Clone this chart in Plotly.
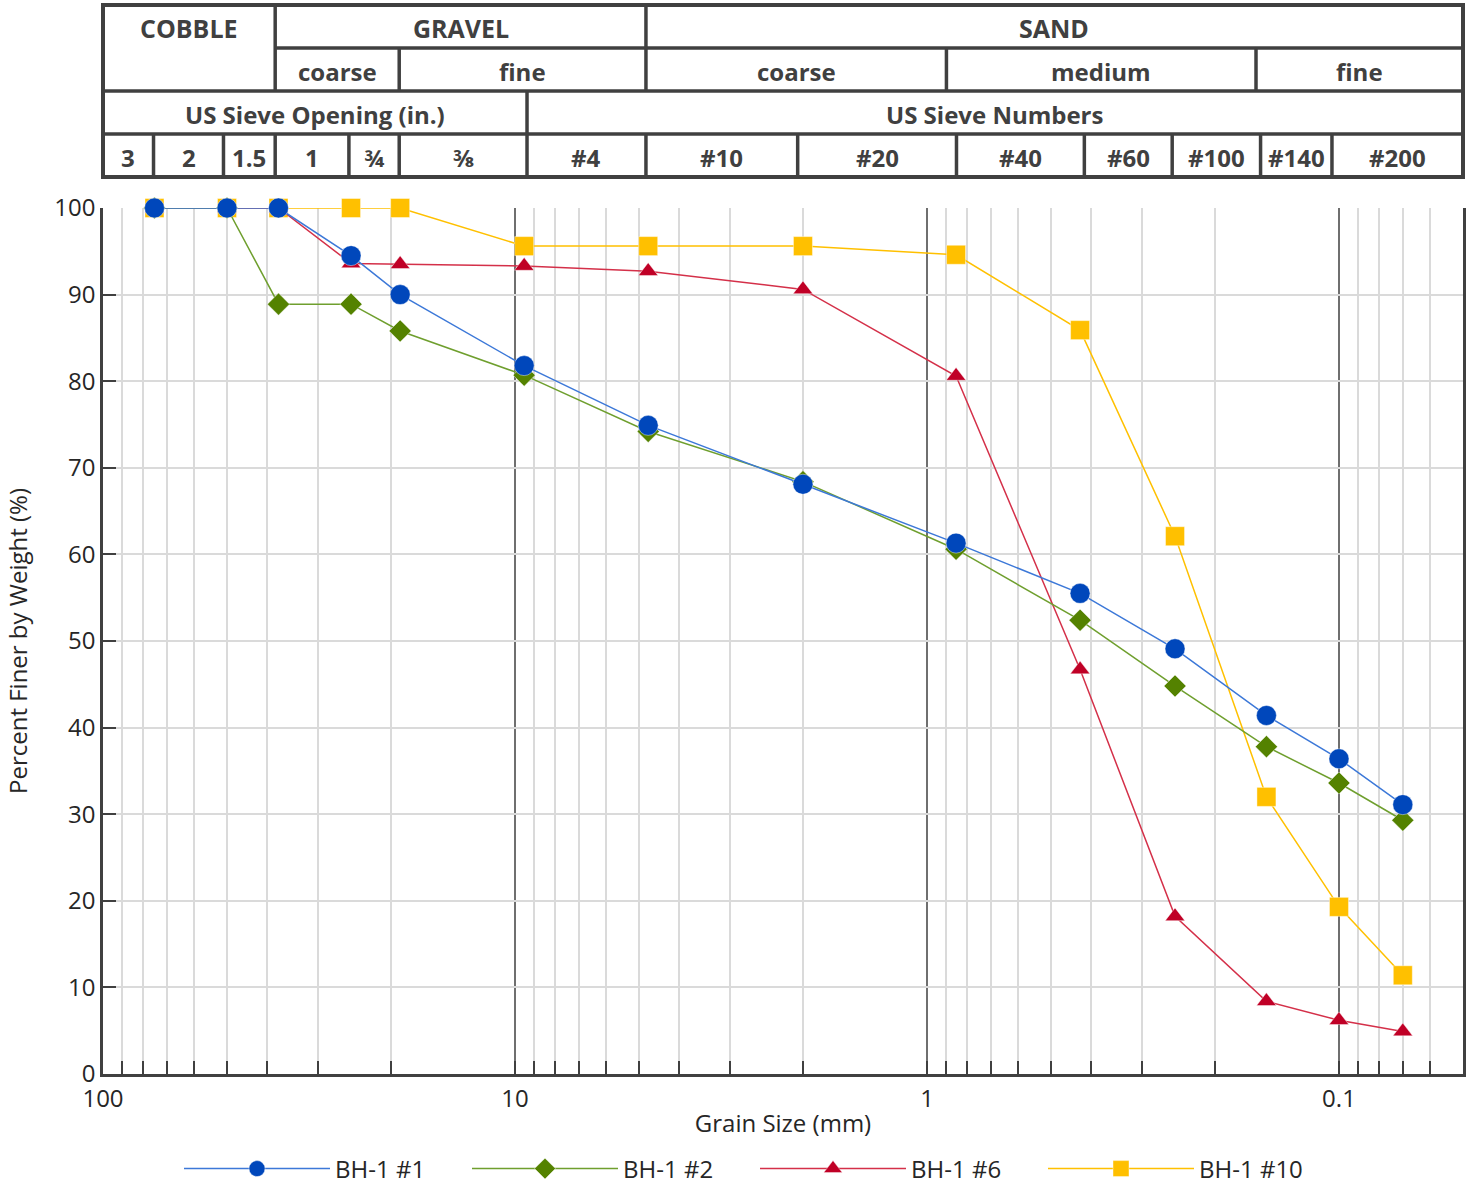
import numpy as np
import plotly.graph_objects as go

# ---------------- data ----------------
grain_mm = [75, 50, 37.5, 25, 19, 9.5, 4.75, 2.0, 0.85, 0.425, 0.25, 0.15, 0.1, 0.07]
bh1_1 = [100, 100, 100, 94.5, 90.0, 81.8, 74.9, 68.1, 61.3, 55.5, 49.1, 41.4, 36.4, 31.1]
bh1_2 = [100, 100, 88.9, 88.9, 85.8, 80.7, 74.2, 68.4, 60.6, 52.4, 44.8, 37.8, 33.6, 29.3]
bh1_6 = [100, 100, 100, 93.6, 93.5, 93.3, 92.7, 90.6, 80.6, 46.7, 18.2, 8.4, 6.2, 4.9]
bh1_10 = [100, 100, 100, 100, 100, 95.6, 95.6, 95.6, 94.6, 85.9, 62.1, 32.0, 19.3, 11.4]

series_names = ["BH-1 #1", "BH-1 #2", "BH-1 #6", "BH-1 #10"]

x_major_ticks = [100, 10, 1, 0.1]
x_major_labels = ["100", "10", "1", "0.1"]
y_ticks = [0, 10, 20, 30, 40, 50, 60, 70, 80, 90, 100]

# header table (grain-size limits in mm)
row1_labels = ["COBBLE", "GRAVEL", "SAND"]
row1_edges = [100, 38.2, 4.81, 0.05]
row2_labels = ["", "coarse", "fine", "coarse", "medium", "fine"]
row2_edges = [100, 38.2, 19.1, 4.81, 0.897, 0.159, 0.05]
row3_labels = ["US Sieve Opening (in.)", "US Sieve Numbers"]
row3_edges = [100, 9.35, 0.05]
row4_labels = ["3", "2", "1.5", "1", "¾", "⅜", "#4", "#10", "#20", "#40", "#60",
               "#100", "#140", "#200"]
row4_edges = [100, 75.4, 51.0, 38.2, 25.3, 19.1, 9.35, 4.81, 2.06, 0.848, 0.415,
              0.254, 0.155, 0.104, 0.05]

# ---------------- layout constants ----------------
W, H = 1470, 1185
ML, MR, MT, MB = 103, 7, 208, 111
X_MAX, X_MIN = 100, 0.05
FONT = "Open Sans"
DARK = "#404040"
TXT = "#262626"


def mm_to_paper(mm):
    return (np.log10(X_MAX) - np.log10(mm)) / (np.log10(X_MAX) - np.log10(X_MIN))


def py_to_paper(py):
    return (H - MB - py) / (H - MT - MB)


minor_vals = []
for dec in [10, 1, 0.1, 0.01]:
    for k in range(2, 10):
        v = k * dec
        if X_MIN - 1e-9 <= v <= X_MAX + 1e-9:
            minor_vals.append(v)

fig = go.Figure()

styles = {
    "BH-1 #10": dict(line="#FFC000", marker="#FFC000", symbol="square", size=19),
    "BH-1 #6": dict(line="#D43049", marker="#C00026", symbol="triangle-up", size=17),
    "BH-1 #2": dict(line="#6F9F2E", marker="#548200", symbol="diamond", size=17),
    "BH-1 #1": dict(line="#3C78D8", marker="#0047BB", symbol="circle", size=20),
}
values = {"BH-1 #1": bh1_1, "BH-1 #2": bh1_2, "BH-1 #6": bh1_6, "BH-1 #10": bh1_10}

for name in ["BH-1 #10", "BH-1 #6", "BH-1 #2", "BH-1 #1"]:
    st = styles[name]
    fig.add_trace(go.Scatter(
        x=grain_mm, y=values[name], name=name, mode="lines+markers",
        line=dict(color=st["line"], width=1.5),
        marker=dict(color=st["marker"], symbol=st["symbol"], size=st["size"],
                    line=dict(width=0.6, color="rgba(255,255,255,0.7)")),
        cliponaxis=False,
        legendrank=series_names.index(name) + 1,
    ))

# ---------------- header table ----------------
shapes = []
annots = []
rows = [
    (row1_labels, row1_edges, 5, 48),
    (row2_labels, row2_edges, 48, 91),
    (row3_labels, row3_edges, 91, 134),
    (row4_labels, row4_edges, 134, 177),
]
for labels, edges, top, bot in rows:
    for i, lab in enumerate(labels):
        x0 = mm_to_paper(edges[i])
        x1 = mm_to_paper(edges[i + 1])
        if i > 0:
            shapes.append(dict(type="line", xref="paper", yref="paper",
                               x0=x0, x1=x0, y0=py_to_paper(top), y1=py_to_paper(bot),
                               line=dict(color=DARK, width=3.5)))
        if lab:
            annots.append(dict(xref="paper", yref="paper", x=(x0 + x1) / 2,
                               y=py_to_paper((top + bot) / 2 + 1.5), text=lab,
                               showarrow=False, xanchor="center", yanchor="middle",
                               font=dict(family=FONT, size=25 if top == 5 else 24,
                                         color=DARK, weight="bold")))
for py, xa in [(48, mm_to_paper(38.2)), (91, 0), (134, 0)]:
    shapes.append(dict(type="line", xref="paper", yref="paper", x0=xa, x1=1,
                       y0=py_to_paper(py), y1=py_to_paper(py),
                       line=dict(color=DARK, width=3.5)))
shapes.append(dict(type="rect", xref="paper", yref="paper", x0=0, x1=1,
                   y0=py_to_paper(177), y1=py_to_paper(5),
                   line=dict(color=DARK, width=4)))

fig.update_layout(
    width=W, height=H,
    margin=dict(l=ML, r=MR, t=MT, b=MB, autoexpand=False),
    paper_bgcolor="white", plot_bgcolor="white",
    font=dict(family=FONT, size=24, color=TXT),
    shapes=shapes, annotations=annots,
    showlegend=True,
    legend=dict(orientation="h", x=(179 - ML) / (W - ML - MR), xanchor="left",
                y=py_to_paper(1169), yanchor="middle",
                itemwidth=146, entrywidth=127, entrywidthmode="pixels",
                font=dict(family=FONT, size=24, color=TXT),
                bgcolor="rgba(0,0,0,0)"),
)

fig.update_xaxes(
    type="log", range=[np.log10(X_MAX), np.log10(X_MIN)],
    tickmode="array", tickvals=x_major_ticks, ticktext=x_major_labels,
    ticks="inside", ticklen=13, tickwidth=1.5, tickcolor=DARK,
    showgrid=True, gridcolor="#6f6f6f", gridwidth=2,
    minor=dict(tickmode="array", tickvals=minor_vals, ticks="inside", ticklen=13,
               tickwidth=1.5, tickcolor=DARK, showgrid=True,
               gridcolor="#dadada", gridwidth=1.5),
    showline=True, linecolor=DARK, linewidth=2.5,
    zeroline=False, automargin=False, ticklabelstandoff=1,
    tickfont=dict(family=FONT, size=24, color=TXT),
    title=dict(text="Grain Size (mm)", font=dict(family=FONT, size=24, color=TXT),
               standoff=3),
)
fig.update_yaxes(
    range=[0, 100], tickmode="array", tickvals=y_ticks,
    ticks="inside", ticklen=13, tickwidth=1.5, tickcolor=DARK,
    showgrid=True, gridcolor="#dadada", gridwidth=1.5,
    showline=True, linecolor=DARK, linewidth=2.5, mirror=True,
    zeroline=False, automargin=False,
    tickfont=dict(family=FONT, size=24, color=TXT),
    title=dict(text="Percent Finer by Weight (%)",
               font=dict(family=FONT, size=24, color=TXT), standoff=20),
)

fig.write_html("out.html", config={"displayModeBar": False},
               post_script="document.body.style.margin='0px';")
